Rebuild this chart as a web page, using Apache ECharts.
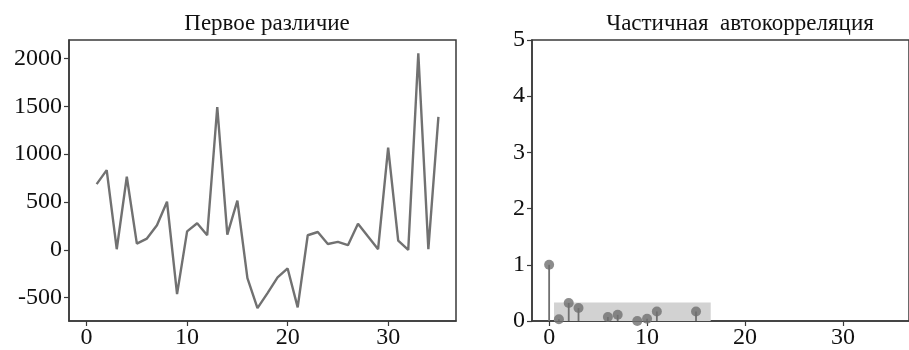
<!DOCTYPE html>
<html>
<head>
<meta charset="utf-8">
<script src="https://cdn.jsdelivr.net/npm/echarts@6/dist/echarts.min.js"></script>
<style>
  html, body { margin: 0; padding: 0; background: #fff; }
  #main { width: 909px; height: 350px; }
</style>
</head>
<body>
<div id="main"></div>
<script>
// first difference series
var diffX = [1,2,3,4,5,6,7,8,9,10,11,12,13,14,15,16,17,18,19,20,21,22,23,24,25,26,27,28,29,30,31,32,33,34,35];
var diffY = [687,833,7,764,66,118,257,503,-462,194,278,153,1493,160,514,-295,-608,-451,-288,-194,-601,153,187,62,83,49,274,139,7,1069,97,0,2055,7,1389];

// partial autocorrelation (visible lags only)
var pacfLag = [0,1,2,3,6,7,9,10,11,15];
var pacfVal = [1.0,0.03,0.32,0.23,0.07,0.11,0.0,0.04,0.17,0.17];

// confidence band
var bandX = [0.5, 16.5];
var bandY = [0, 0.33];

var xTicks = [0,10,20,30];
var yTicksLeft = [-500,0,500,1000,1500,2000];
var yTicksRight = [0,1,2,3,4,5];

var font = 'Liberation Serif';
var axisColor = '#3a3a3a';

function plain(v) { return String(v); }

function xAxisCfg(idx) {
  return {
    type: 'value', gridIndex: idx, min: -1.75, max: 36.75,
    axisLine: { show: true, onZero: false, lineStyle: { color: axisColor, width: 1.5 } },
    axisTick: { show: true, length: 5, customValues: xTicks, lineStyle: { color: axisColor, width: 1.2 } },
    axisLabel: { customValues: xTicks, formatter: plain, color: '#111', fontFamily: font, fontSize: 24, margin: 5 },
    splitLine: { show: false }
  };
}

function yAxisCfg(idx, min, max, ticks) {
  return {
    type: 'value', gridIndex: idx, min: min, max: max,
    axisLine: { show: true, onZero: false, lineStyle: { color: axisColor, width: 1.5 } },
    axisTick: { show: true, length: 5, customValues: ticks, lineStyle: { color: axisColor, width: 1.2 } },
    axisLabel: { customValues: ticks, formatter: plain, color: '#111', fontFamily: font, fontSize: 24, margin: 7 },
    splitLine: { show: false }
  };
}

var chart = echarts.init(document.getElementById('main'));
chart.setOption({
  animation: false,
  backgroundColor: '#fff',
  title: [
    { text: 'Первое различие', left: 262, top: 7, textAlign: 'center',
      textStyle: { fontFamily: font, fontSize: 23, fontWeight: 'normal', color: '#111' } },
    { text: 'Частичная  автокорреляция', left: 735, top: 7, textAlign: 'center',
      textStyle: { fontFamily: font, fontSize: 23, fontWeight: 'normal', color: '#111' } }
  ],
  grid: [
    { left: 69, top: 40, width: 387, height: 281, show: true, borderColor: axisColor, borderWidth: 1.5, backgroundColor: 'transparent' },
    { left: 532, top: 40, width: 387, height: 281, show: true, borderColor: axisColor, borderWidth: 1.5, backgroundColor: 'transparent' }
  ],
  xAxis: [xAxisCfg(0), xAxisCfg(1)],
  yAxis: [yAxisCfg(0, -743, 2193, yTicksLeft), yAxisCfg(1, 0, 5, yTicksRight)],
  series: [
    {
      type: 'line', xAxisIndex: 0, yAxisIndex: 0,
      data: diffX.map(function (x, i) { return [x, diffY[i]]; }),
      showSymbol: false,
      lineStyle: { color: '#717171', width: 2.4 }
    },
    {
      type: 'custom', xAxisIndex: 1, yAxisIndex: 1, z: 1,
      data: [[bandX[0], bandX[1], bandY[0], bandY[1]]],
      renderItem: function (params, api) {
        var p0 = api.coord([api.value(0), api.value(3)]);
        var p1 = api.coord([api.value(1), api.value(2)]);
        return { type: 'rect', shape: { x: p0[0], y: p0[1], width: p1[0] - p0[0], height: p1[1] - p0[1] },
                 style: { fill: '#d2d2d2' } };
      }
    },
    {
      type: 'custom', xAxisIndex: 1, yAxisIndex: 1, z: 3,
      data: pacfLag.map(function (x, i) { return [x, pacfVal[i]]; }),
      renderItem: function (params, api) {
        var a = api.coord([api.value(0), 0]);
        var b = api.coord([api.value(0), api.value(1)]);
        return { type: 'line', shape: { x1: a[0], y1: a[1], x2: b[0], y2: b[1] },
                 style: { stroke: '#707070', lineWidth: 1.8 } };
      }
    },
    {
      type: 'scatter', xAxisIndex: 1, yAxisIndex: 1, z: 4,
      data: pacfLag.map(function (x, i) { return [x, pacfVal[i]]; }),
      symbol: 'circle', symbolSize: 10,
      itemStyle: { color: '#6f6f6f' }
    }
  ]
});
</script>
</body>
</html>
